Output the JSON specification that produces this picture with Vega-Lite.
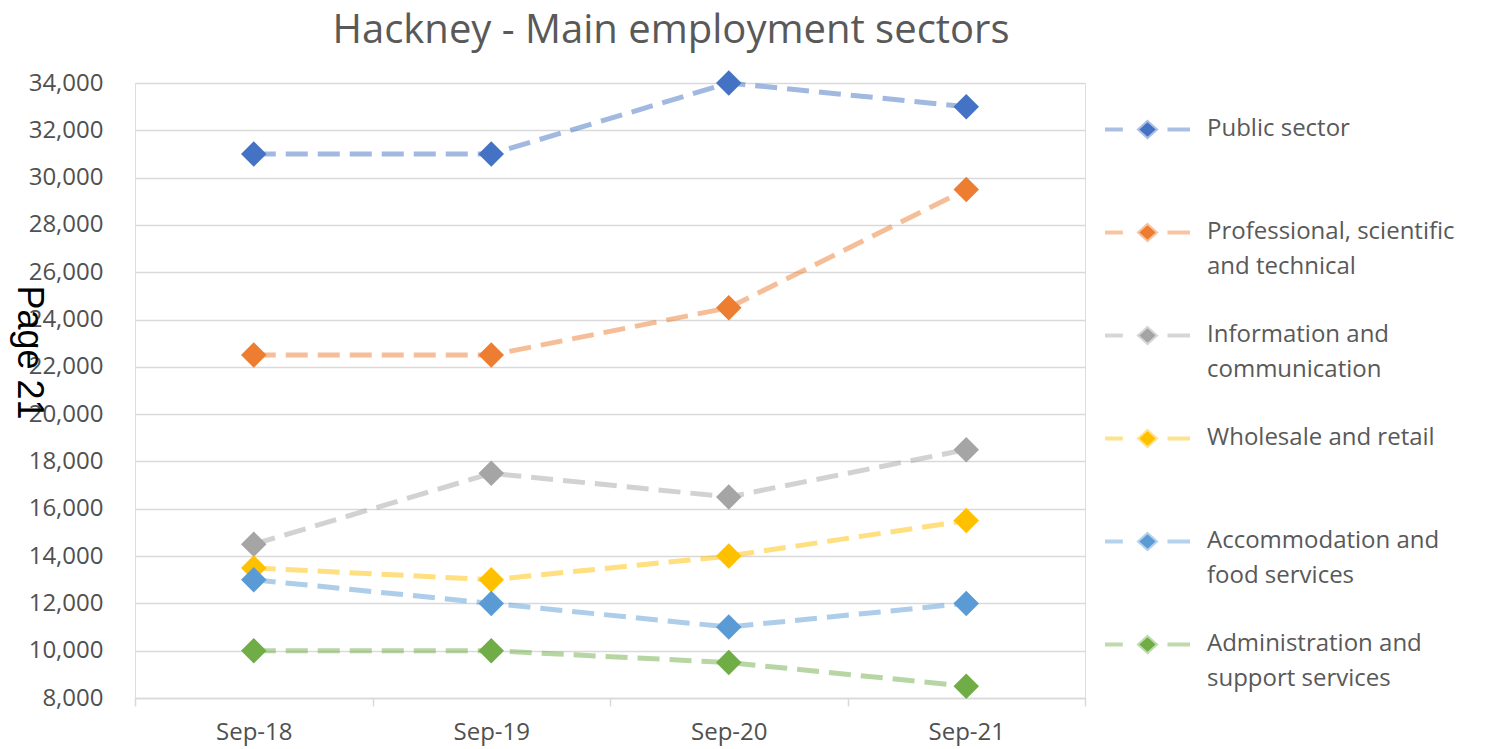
{
  "$schema": "https://vega.github.io/schema/vega-lite/v6.json",
  "width": 950,
  "height": 615,
  "autosize": {"type": "none"},
  "padding": {"left": 135, "top": 83, "right": 412, "bottom": 51},
  "background": "white",
  "config": {
    "style": {"guide-label": {"lineHeight": 35}}
  },
  "title": {
    "text": "Hackney - Main employment sectors",
    "font": "Open Sans",
    "fontSize": 40,
    "fontWeight": "normal",
    "color": "#595959",
    "anchor": "middle",
    "frame": "group",
    "dx": 61,
    "offset": 19
  },
  "data": {
    "values": [
      {"month": "Sep-18", "sector": "Public sector", "value": 31000},
      {"month": "Sep-19", "sector": "Public sector", "value": 31000},
      {"month": "Sep-20", "sector": "Public sector", "value": 34000},
      {"month": "Sep-21", "sector": "Public sector", "value": 33000},
      {"month": "Sep-18", "sector": "Professional, scientific and technical", "value": 22500},
      {"month": "Sep-19", "sector": "Professional, scientific and technical", "value": 22500},
      {"month": "Sep-20", "sector": "Professional, scientific and technical", "value": 24500},
      {"month": "Sep-21", "sector": "Professional, scientific and technical", "value": 29500},
      {"month": "Sep-18", "sector": "Information and communication", "value": 14500},
      {"month": "Sep-19", "sector": "Information and communication", "value": 17500},
      {"month": "Sep-20", "sector": "Information and communication", "value": 16500},
      {"month": "Sep-21", "sector": "Information and communication", "value": 18500},
      {"month": "Sep-18", "sector": "Wholesale and retail", "value": 13500},
      {"month": "Sep-19", "sector": "Wholesale and retail", "value": 13000},
      {"month": "Sep-20", "sector": "Wholesale and retail", "value": 14000},
      {"month": "Sep-21", "sector": "Wholesale and retail", "value": 15500},
      {"month": "Sep-18", "sector": "Accommodation and food services", "value": 13000},
      {"month": "Sep-19", "sector": "Accommodation and food services", "value": 12000},
      {"month": "Sep-20", "sector": "Accommodation and food services", "value": 11000},
      {"month": "Sep-21", "sector": "Accommodation and food services", "value": 12000},
      {"month": "Sep-18", "sector": "Administration and support services", "value": 10000},
      {"month": "Sep-19", "sector": "Administration and support services", "value": 10000},
      {"month": "Sep-20", "sector": "Administration and support services", "value": 9500},
      {"month": "Sep-21", "sector": "Administration and support services", "value": 8500}
    ]
  },
  "encoding": {
    "x": {
      "field": "month",
      "type": "ordinal",
      "sort": ["Sep-18", "Sep-19", "Sep-20", "Sep-21"],
      "scale": {"type": "band", "paddingInner": 0, "paddingOuter": 0},
      "axis": {
        "title": null,
        "labelAngle": 0,
        "labelFont": "Open Sans",
        "labelFontSize": 24,
        "labelColor": "#505050",
        "labelPadding": 14,
        "tickBand": "extent",
        "tickSize": 8,
        "tickColor": "#d9d9d9",
        "tickWidth": 1.5,
        "domainColor": "#d9d9d9",
        "domainWidth": 1.5,
        "grid": false
      }
    },
    "y": {
      "field": "value",
      "type": "quantitative",
      "scale": {"domain": [8000, 34000], "nice": false, "zero": false},
      "axis": {
        "title": "Page 21",
        "titleFont": "Liberation Sans",
        "titleFontSize": 36,
        "titleFontWeight": "normal",
        "titleColor": "#000000",
        "titleAngle": 90,
        "titleAlign": "center",
        "titleBaseline": "middle",
        "titleX": -107,
        "titleY": 269,
        "values": [8000, 10000, 12000, 14000, 16000, 18000, 20000, 22000, 24000, 26000, 28000, 30000, 32000, 34000],
        "format": ",d",
        "labelFont": "Open Sans",
        "labelFontSize": 24,
        "labelColor": "#505050",
        "labelPadding": 32,
        "domain": false,
        "ticks": false,
        "grid": true,
        "gridColor": "#d9d9d9",
        "gridWidth": 1.5
      }
    },
    "color": {
      "field": "sector",
      "type": "nominal",
      "scale": {
        "domain": ["Public sector", "Professional, scientific and technical", "Information and communication", "Wholesale and retail", "Accommodation and food services", "Administration and support services"],
        "range": ["#4472C4", "#ED7D31", "#A5A5A5", "#FFC000", "#5B9BD5", "#70AD47"]
      },
      "legend": {
        "title": null,
        "orient": "right",
        "offset": 16,
        "padding": 2,
        "symbolType": "M-1,0L-0.58,0M0.47,0L1,0M0,-0.17L0.19,0L0,0.17L-0.19,0Z",
        "symbolSize": 7225,
        "symbolStrokeWidth": 4,
        "symbolOpacity": 1,
        "labelFont": "Open Sans",
        "labelFontSize": 24,
        "labelColor": "#595959",
        "labelOffset": 15,
        "labelLimit": 400,
        "rowPadding": 12,
        "labelExpr": "datum.label == 'Professional, scientific and technical' ? ['Professional, scientific', 'and technical'] : datum.label == 'Information and communication' ? ['Information and', 'communication'] : datum.label == 'Accommodation and food services' ? ['Accommodation and', 'food services'] : datum.label == 'Administration and support services' ? ['Administration and', 'support services'] : [datum.label, ' ']",
        "encode": {
          "symbols": {
            "update": {
              "fill": {"scale": "color", "field": "value"},
              "stroke": {"scale": "color", "field": "value"},
              "fillOpacity": {"value": 1},
              "strokeOpacity": {"value": 0.45},
              "opacity": {"value": 1}
            }
          },
          "labels": {
            "update": {
              "baseline": {"value": "top"},
              "dy": {"value": -13},
              "lineHeight": {"value": 35}
            }
          }
        }
      }
    }
  },
  "layer": [
    {
      "mark": {"type": "line", "strokeWidth": 5, "strokeDash": [22, 10], "opacity": 0.5}
    },
    {
      "mark": {"type": "point", "shape": "diamond", "filled": true, "size": 650, "opacity": 1}
    }
  ]
}
